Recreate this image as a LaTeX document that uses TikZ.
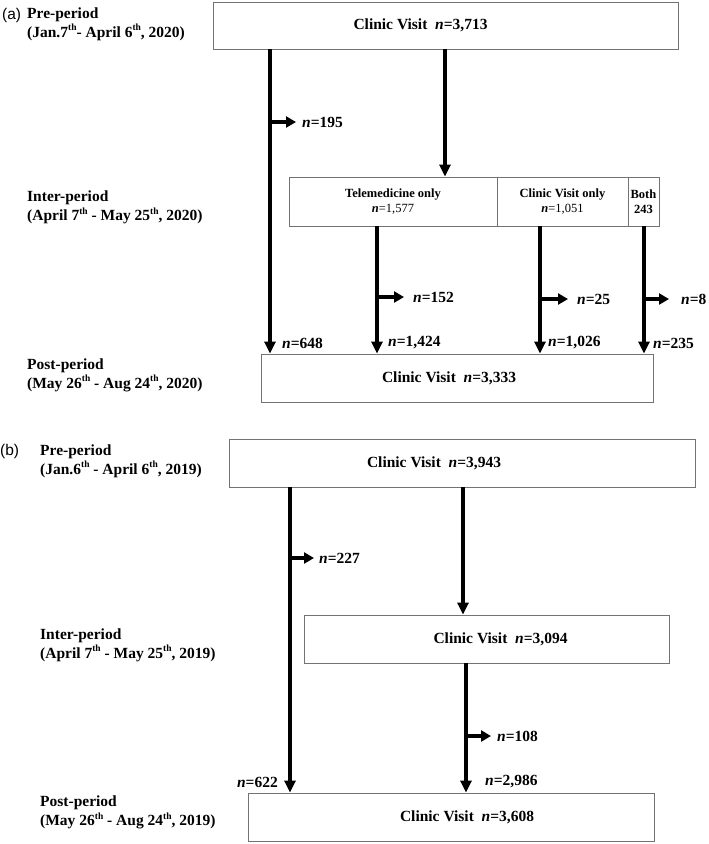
\documentclass[tikz,border=0pt]{standalone}
\usepackage{fontspec}
\setmainfont{Liberation Serif}
\newfontfamily\panelfont{Liberation Sans}
\usetikzlibrary{arrows.meta}

\newcommand{\thsup}{\raisebox{0.42em}{\fontsize{9.5}{9.5}\selectfont th}}

\begin{document}
\begin{tikzpicture}[x=1pt,y=-1pt,
    box/.style={draw=black!55,line width=0.9pt,inner sep=0pt,align=center,font=\fontsize{15.5}{18}\selectfont\bfseries},
    cell/.style={box,font=\fontsize{12.5}{15}\selectfont\bfseries},
    flow/.style={-{Triangle[length=12pt,width=11pt]},line width=3.3pt},
    side/.style={-{Triangle[length=10pt,width=11pt]},line width=3.5pt},
    cnt/.style={inner sep=0pt,font=\fontsize{15.5}{18}\selectfont\bfseries},
    period/.style={inner sep=0pt,anchor=west,align=left,font=\fontsize{15.5}{19}\selectfont\bfseries},
    tag/.style={inner sep=0pt,anchor=west,font=\panelfont\fontsize{15.5}{18}\selectfont}]
      \useasboundingbox (0,0) rectangle (709,844);

      % (a) 2020
      \node[tag] (aTag) at (2,15) {(a)};
      \node[period] (aPreLbl) at (27,24) {Pre-period\\(Jan.7\thsup- April 6\thsup, 2020)};
      \node[period] (aInterLbl) at (27,207.5) {Inter-period\\(April 7\thsup\ - May 25\thsup, 2020)};
      \node[period] (aPostLbl) at (27,375) {Post-period\\(May 26\thsup\ - Aug 24\thsup, 2020)};

      \node[box,minimum width=465pt,minimum height=47pt] (aPre) at (445.5,25.5) {};
      \node[cnt] (aPreTxt) at ([xshift=-25pt]aPre.center) {Clinic Visit~~\textit{n}=3,713};
      \node[cell,minimum width=208pt,minimum height=49pt] (aTele) at (393,201.5) {Telemedicine only\\\textit{n}{\mdseries=1,577}};
      \node[cell,minimum width=131pt,minimum height=49pt] (aClin) at (562.5,201.5) {Clinic Visit only\\\textit{n}{\mdseries=1,051}};
      \node[cell,minimum width=31pt,minimum height=49pt] (aBoth) at (643.5,201.5) {Both\\243};
      \node[box,minimum width=392pt,minimum height=48pt] (aPost) at (457,378) {};
      \node[cnt] (aPostTxt) at ([xshift=-8pt]aPost.center) {Clinic Visit~~\textit{n}=3,333};

      \node[cnt,anchor=west] (aOut0) at (302,122) {\textit{n}=195};
      \node[cnt,anchor=west] (aOut1) at (413,297) {\textit{n}=152};
      \node[cnt,anchor=west] (aOut2) at (577,299) {\textit{n}=25};
      \node[cnt,anchor=west] (aOut3) at (681,299) {\textit{n}=8};
      \node[cnt,anchor=west] (aIn0) at (282,343) {\textit{n}=648};
      \node[cnt,anchor=west] (aIn1) at (388,343) {\textit{n}=1,424};
      \node[cnt,anchor=west] (aIn2) at (548,343) {\textit{n}=1,026};
      \node[cnt,anchor=west] (aIn3) at (653,343) {\textit{n}=235};

      \draw[flow] (aPre.south -| 270,0) -- (aPost.north -| 270,0);
      \draw[flow] (aPre.south -| 445,0) -- (aTele.north -| 445,0);
      \draw[flow] (aTele.south -| 377,0) -- (aPost.north -| 377,0);
      \draw[flow] (aClin.south -| 540,0) -- (aPost.north -| 540,0);
      \draw[flow] (aBoth.south -| 644,0) -- (aPost.north -| 644,0);

      \draw[side] (aOut0.west -| 270,0) -- ([xshift=-6pt]aOut0.west);
      \draw[side] (aOut1.west -| 377,0) -- ([xshift=-9pt]aOut1.west);
      \draw[side] (aOut2.west -| 540,0) -- ([xshift=-9pt]aOut2.west);
      \draw[side] (aOut3.west -| 644,0) -- ([xshift=-12pt]aOut3.west);

      % (b) 2019
      \node[tag] (bTag) at (0,451) {(b)};
      \node[period] (bPreLbl) at (40,461) {Pre-period\\(Jan.6\thsup\ - April 6\thsup, 2019)};
      \node[period] (bInterLbl) at (40,645) {Inter-period\\(April 7\thsup\ - May 25\thsup, 2019)};
      \node[period] (bPostLbl) at (40,812.5) {Post-period\\(May 26\thsup\ - Aug 24\thsup, 2019)};

      \node[box,minimum width=466pt,minimum height=48pt] (bPre) at (462,463) {};
      \node[cnt] (bPreTxt) at ([xshift=-28pt]bPre.center) {Clinic Visit~~\textit{n}=3,943};
      \node[box,minimum width=365pt,minimum height=48pt] (bInter) at (486.5,639) {};
      \node[cnt] (bInterTxt) at ([xshift=14pt]bInter.center) {Clinic Visit~~\textit{n}=3,094};
      \node[box,minimum width=406pt,minimum height=48pt] (bPost) at (451,817) {};
      \node[cnt] (bPostTxt) at ([xshift=16pt]bPost.center) {Clinic Visit~~\textit{n}=3,608};

      \node[cnt,anchor=west] (bOut0) at (319,558) {\textit{n}=227};
      \node[cnt,anchor=west] (bOut1) at (497,736) {\textit{n}=108};
      \node[cnt,anchor=east] (bIn0) at (278,782) {\textit{n}=622};
      \node[cnt,anchor=west] (bIn1) at (485,782) {\textit{n}=2,986};

      \draw[flow] (bPre.south -| 290,0) -- (bPost.north -| 290,0);
      \draw[flow] (bPre.south -| 463,0) -- (bInter.north -| 463,0);
      \draw[flow] (bInter.south -| 466,0) -- (bPost.north -| 466,0);

      \draw[side] (bOut0.west -| 290,0) -- ([xshift=-5pt]bOut0.west);
      \draw[side] (bOut1.west -| 466,0) -- ([xshift=-6pt]bOut1.west);
\end{tikzpicture}
\end{document}
